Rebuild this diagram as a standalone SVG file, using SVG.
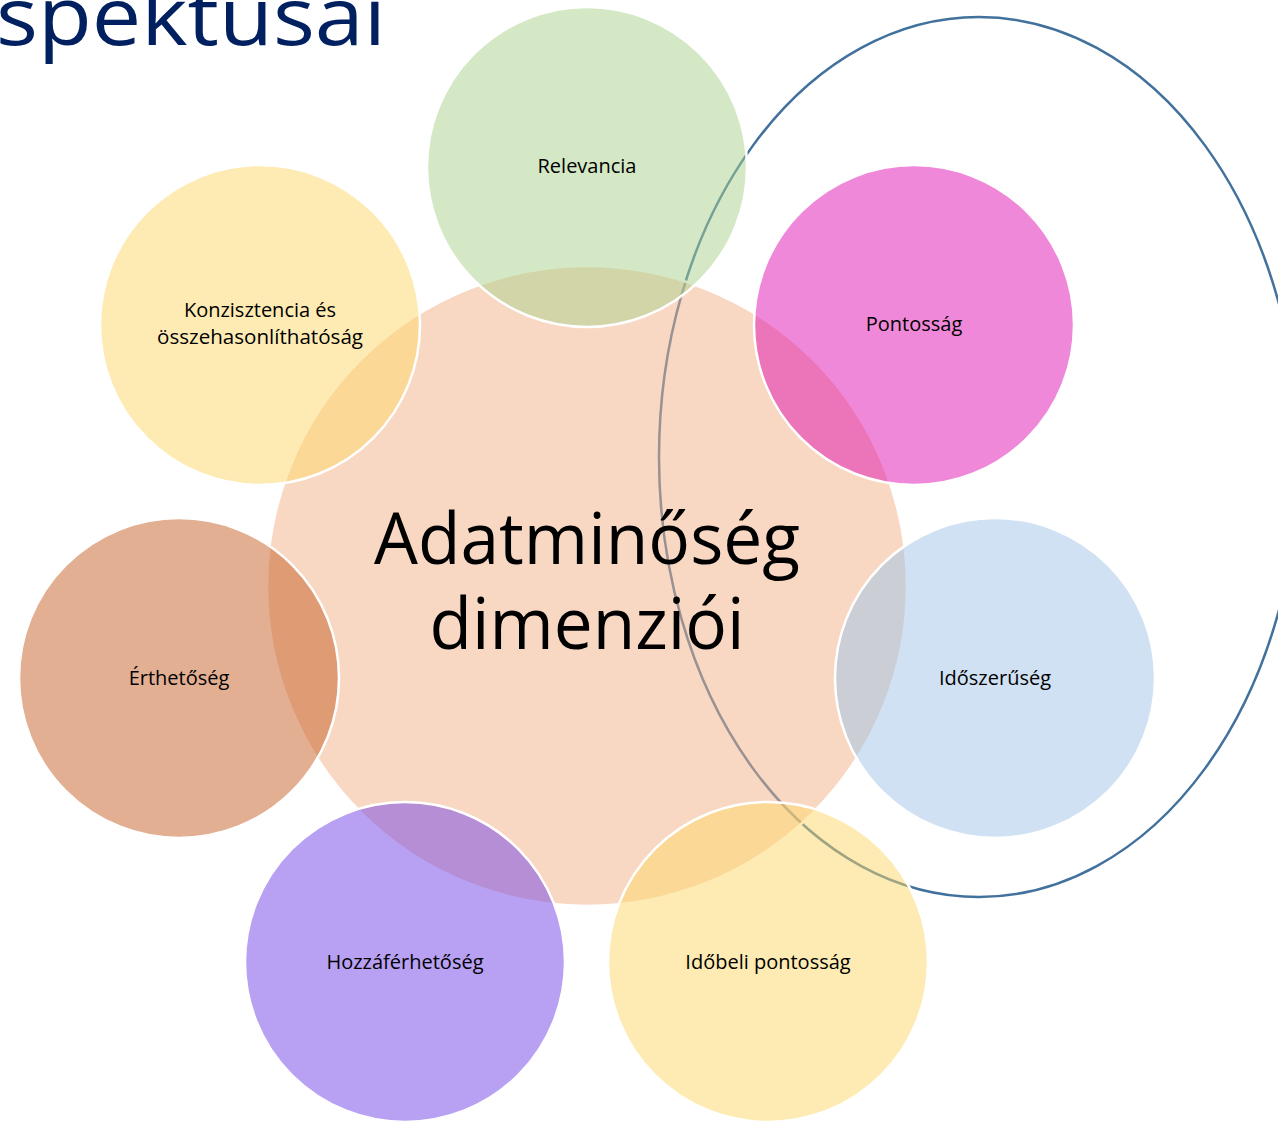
<svg xmlns="http://www.w3.org/2000/svg" width="1278" height="1121" viewBox="0 0 1278 1121">
<style>
.c{stroke:#ffffff;stroke-width:2.5;fill-opacity:0.5}
.lbl{font-family:"Open Sans","Noto Sans",sans-serif;font-size:20px;fill:#000000;text-anchor:middle}
.big{font-family:"Open Sans","Noto Sans",sans-serif;font-size:72px;fill:#000000;text-anchor:middle}
</style>
<rect width="1278" height="1121" fill="#ffffff"/>
<text x="-4" y="45" font-family="Open Sans, Noto Sans, sans-serif" font-size="80" fill="#002060" textLength="390" lengthAdjust="spacingAndGlyphs">spektusai</text>
<g id="connectors">
<ellipse cx="979" cy="457" rx="320" ry="440" fill="none" stroke="#41719c" stroke-width="2.5"/>
</g>
<g id="center">
<circle class="c" cx="587" cy="586" r="320" fill="#f1b187"/>
<text class="big" x="587" y="564" textLength="426" lengthAdjust="spacingAndGlyphs">Adatminőség</text>
<text class="big" x="587" y="649" textLength="315" lengthAdjust="spacingAndGlyphs">dimenziói</text>
</g>
<g id="relevancia">
<circle class="c" cx="587" cy="167" r="160" fill="#a9d18e"/>
<text class="lbl" x="587" y="173">Relevancia</text>
</g>
<g id="pontossag">
<circle class="c" cx="914" cy="325" r="160" fill="#df11b1"/>
<text class="lbl" x="914" y="331">Pontosság</text>
</g>
<g id="idoszeruseg">
<circle class="c" cx="995" cy="678" r="160" fill="#9fc3e7"/>
<text class="lbl" x="995" y="685">Időszerűség</text>
</g>
<g id="idobeli">
<circle class="c" cx="768" cy="962" r="160" fill="#fdd769"/>
<text class="lbl" x="768" y="969">Időbeli pontosság</text>
</g>
<g id="hozzaferhetoseg">
<circle class="c" cx="405" cy="962" r="160" fill="#7143e7"/>
<text class="lbl" x="405" y="969">Hozzáférhetőség</text>
</g>
<g id="erthetoseg">
<circle class="c" cx="179" cy="678" r="160" fill="#c55f25"/>
<text class="lbl" x="179" y="685">Érthetőség</text>
</g>
<g id="konzisztencia">
<circle class="c" cx="260" cy="325" r="160" fill="#fdd769"/>
<text class="lbl" x="260" y="317">Konzisztencia és</text>
<text class="lbl" x="260" y="344" textLength="206" lengthAdjust="spacingAndGlyphs">összehasonlíthatóság</text>
</g>
</svg>
